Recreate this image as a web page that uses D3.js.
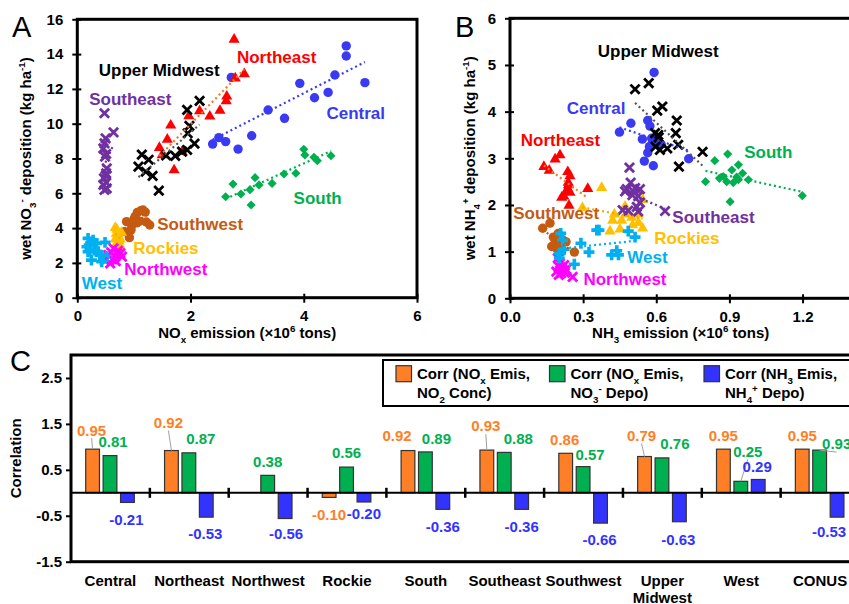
<!DOCTYPE html>
<html>
<head>
<meta charset="utf-8">
<script src="https://cdn.jsdelivr.net/npm/d3@7"></script>
<style>
body { margin: 0; background: #fff; }
svg { display: block; font-family: "Liberation Sans", Arial, sans-serif; }
</style>
</head>
<body>
<div id="container"></div>
<script>
// regions, in the same order for every array below
var regionNames = ["Central", "Northeast", "Northwest", "Rockies", "South", "Southeast", "Southwest", "Upper Midwest", "West"];

// panel A: NOx emission (1e6 tons) vs wet NO3- deposition (kg/ha)
var noxCentral = [[2.39,8.83],[2.50,9.20],[2.62,8.97],[2.84,8.54],[3.08,9.31],[2.72,12.66],[3.37,10.79],[3.66,10.31],[3.93,12.32],[4.19,11.49],[4.43,11.80],[4.55,12.80],[4.75,14.47],[4.75,13.89],[5.08,12.36]];
var noxNortheast = [[2.77,14.9],[2.79,12.67],[2.95,12.91],[2.64,11.63],[2.63,11.36],[2.52,10.81],[2.34,10.48],[2.16,10.79],[1.97,10.5],[1.65,9.96],[1.59,9.15],[1.45,8.68],[1.50,8.26],[1.71,7.39],[1.85,8.45]];
var noxNorthwest = [[0.58,1.97],[0.67,2.36],[0.76,2.55],[0.79,2.36],[0.64,2.84],[0.49,2.13],[0.70,2.55],[0.55,2.45],[0.62,2.2],[0.72,2.7],[0.60,2.6],[0.68,2.1]];
var noxRockies = [[0.67,4.08],[0.71,3.7],[0.70,3.22],[0.76,3.41],[0.70,3.98],[0.67,3.41],[0.76,3.03],[0.73,3.6],[0.78,3.8],[0.72,3.1],[0.74,3.3],[0.69,3.75]];
var noxSouth = [[2.62,5.8],[2.75,6.53],[2.89,5.96],[3.05,6.21],[3.07,5.33],[3.14,6.9],[3.21,6.48],[3.44,6.57],[3.65,7.11],[3.86,7.15],[4.00,8.53],[4.02,8.2],[4.18,8.07],[4.24,7.87],[4.48,8.16]];
var noxSoutheast = [[0.48,10.6],[0.64,9.5],[0.50,9.16],[0.48,8.87],[0.46,8.58],[0.51,8.26],[0.52,7.43],[0.51,7.15],[0.47,6.86],[0.51,6.61],[0.46,6.48],[0.52,6.28],[0.48,6.19],[0.50,7.0],[0.49,8.1]];
var noxSouthwest = [[0.83,3.8],[0.87,4.37],[0.92,3.45],[0.95,3.9],[0.96,4.15],[1.00,4.5],[1.02,4.66],[1.06,4.9],[1.10,4.4],[1.12,5.0],[1.16,5.04],[1.20,4.92],[1.22,4.35],[1.28,4.18],[1.05,4.3]];
var noxUpperMidwest = [[1.14,8.22],[1.26,7.93],[1.08,7.53],[1.21,7.24],[1.33,7.0],[1.44,6.15],[1.57,8.18],[1.73,8.15],[1.85,8.4],[1.94,8.49],[2.07,8.85],[1.94,10.79],[2.16,11.31],[1.98,9.88],[1.95,9.45]];
var noxWest = [[0.19,3.41],[0.21,3.03],[0.34,3.12],[0.49,3.18],[0.19,2.64],[0.30,2.74],[0.40,2.45],[0.25,2.16],[0.43,2.07],[0.52,2.36],[0.17,2.93],[0.28,3.3],[0.37,2.64],[0.46,2.26],[0.22,2.74]];

// panel B: NH3 emission (1e6 tons) vs wet NH4+ deposition (kg/ha)
var nh3Central = [[0.591,4.84],[0.449,3.56],[0.496,3.75],[0.543,3.41],[0.565,3.81],[0.574,3.69],[0.581,3.43],[0.572,3.25],[0.565,3.12],[0.551,2.94],[0.588,2.84],[0.584,3.32],[0.733,2.99],[0.60,3.4],[0.62,3.3]];
var nh3Northeast = [[0.139,2.84],[0.161,2.76],[0.185,3.0],[0.205,3.09],[0.237,2.73],[0.246,2.64],[0.239,2.5],[0.237,2.37],[0.246,2.29],[0.221,2.21],[0.212,2.18],[0.242,2.01],[0.319,2.37],[0.232,2.32],[0.24,2.45]];
var nh3Northwest = [[0.196,0.86],[0.20,0.68],[0.19,0.57],[0.21,0.54],[0.23,0.62],[0.257,0.46],[0.205,0.75],[0.222,0.71],[0.215,0.62],[0.20,0.5],[0.225,0.55],[0.21,0.66]];
var nh3Rockies = [[0.376,2.39],[0.297,1.96],[0.428,1.82],[0.472,1.99],[0.544,2.13],[0.421,1.69],[0.458,1.69],[0.499,1.75],[0.41,1.46],[0.451,1.5],[0.503,1.59],[0.527,1.64],[0.544,1.52],[0.527,1.82],[0.48,1.82]];
var nh3South = [[0.84,2.95],[0.893,3.09],[0.937,2.86],[0.91,2.75],[0.954,2.68],[0.875,2.61],[0.889,2.5],[0.916,2.48],[0.937,2.54],[0.978,2.54],[0.802,2.5],[0.903,2.07],[1.199,2.2],[0.859,2.57],[0.93,2.6]];
var nh3Southeast = [[0.49,2.8],[0.495,2.48],[0.479,2.34],[0.513,2.36],[0.533,2.34],[0.472,2.29],[0.502,2.21],[0.526,2.19],[0.485,1.88],[0.533,2.05],[0.526,1.86],[0.636,1.87],[0.462,1.89],[0.506,2.29],[0.52,1.96]];
var nh3Southwest = [[0.134,1.50],[0.164,1.61],[0.178,1.31],[0.185,1.25],[0.171,1.11],[0.191,1.07],[0.219,1.24],[0.23,1.21],[0.264,0.99],[0.205,1.11],[0.198,1.39],[0.212,1.0]];
var nh3UpperMidwest = [[0.513,4.48],[0.569,4.61],[0.604,4.02],[0.625,4.11],[0.684,3.81],[0.68,3.54],[0.595,3.54],[0.608,3.5],[0.597,3.25],[0.615,3.18],[0.645,3.21],[0.69,3.29],[0.693,2.82],[0.79,3.14],[0.61,3.45]];
var nh3West = [[0.208,1.39],[0.216,1.24],[0.202,0.96],[0.222,1.05],[0.202,0.86],[0.264,0.73],[0.291,1.18],[0.324,0.99],[0.356,1.46],[0.417,0.93],[0.438,1.02],[0.445,0.93],[0.485,1.44],[0.513,1.31],[0.365,1.46]];

// panel C: correlations
var categories = ["Central", "Northeast", "Northwest", "Rockie", "South", "Southeast", "Southwest", "Upper Midwest", "West", "CONUS"];
var corrNO2 = [0.95, 0.92, null, -0.10, 0.92, 0.93, 0.86, 0.79, 0.95, 0.95];
var corrNO3 = [0.81, 0.87, 0.38, 0.56, 0.89, 0.88, 0.57, 0.76, 0.25, 0.93];
var corrNH4 = [-0.21, -0.53, -0.56, -0.20, -0.36, -0.36, -0.66, -0.63, 0.29, -0.53];

// styling of the regions
var regionColors = ["#3a3af2", "#ff0000", "#ff00ff", "#ffc000", "#00b050", "#7030a0", "#c55a11", "#000000", "#00b0f0"];
var trendColors = ["#3a3af2", "#f07a28", "#ff00ff", "#f0a800", "#00b050", "#7030a0", "#c55a11", "#555555", "#00b0f0"];
var regionShapes = ["circle", "triangle", "x", "triangle", "diamond", "x", "circle", "x", "plus"];
var drawOrder = [0, 1, 6, 3, 5, 4, 2, 8, 7];

// label anchors (left, baseline) in data units
var labelPosA = [[4.40,10.27],[2.82,13.47],[0.83,1.29],[0.99,2.51],[3.82,5.39],[0.21,11.06],[1.41,3.89],[0.38,12.74],[0.08,0.52]];
var labelPosB = [[0.233,3.94],[0.044,3.26],[0.301,0.285],[0.592,1.157],[0.961,3.013],[0.666,1.62],[0.013,1.693],[0.36,5.164],[0.481,0.763]];

// bar label nudges [dx, dy] in px
var nudgeNO2 = [[-1,-5],[-3,-14],null,[0,3],[-11,-1],[-1,-10],[-1,0],[-3,-7],[0,0],[0,0]];
var nudgeNO3 = [[3,0],[12,0],[0,0],[0,0],[11,1],[14,0],[7,2],[13,0],[7,-16],[17,8]];
var nudgeNH4 = [[-1,3],[-1,2],[1,1],[0,-2],[0,3],[0,3],[-1,2],[-1,4],[-1,1],[-8,0]];

var width = 849, height = 604;

var svg = d3.select("#container")
  .append("svg")
  .attr("width", width)
  .attr("height", height);

// hyphen instead of the unicode minus d3 uses
var locale = d3.formatLocale({ decimal: ".", thousands: ",", grouping: [3], currency: ["", ""], minus: "-" });

// text with sub/superscripts: parts = [[text, "n"|"sub"|"sup"], ...]
function richText(sel, parts, fs) {
  var shift = 0;
  parts.forEach(function(p) {
    var target = p[1] == "sub" ? fs * 0.3 : (p[1] == "sup" ? -fs * 0.42 : 0);
    sel.append("tspan")
      .attr("dy", target - shift)
      .attr("font-size", p[1] == "n" ? fs : fs * 0.65)
      .text(p[0]);
    shift = target;
  });
  return sel;
}

function marker(g, shape, color) {
  if (shape == "circle") {
    g.append("circle").attr("r", 4.7).attr("fill", color);
  } else if (shape == "triangle") {
    g.append("path").attr("d", d3.symbol(d3.symbolTriangle, 54)()).attr("fill", color)
      .attr("transform", "translate(0,1)");
  } else if (shape == "diamond") {
    g.append("path").attr("d", d3.symbol(d3.symbolSquare, 42)()).attr("fill", color)
      .attr("transform", "rotate(45)");
  } else if (shape == "plus") {
    g.append("path").attr("d", d3.symbol(d3.symbolCross, 66)()).attr("fill", color);
  } else {
    g.append("path").attr("d", "M-4.6,-4.6L4.6,4.6M-4.6,4.6L4.6,-4.6")
      .attr("stroke", color).attr("stroke-width", 2.8).attr("fill", "none");
  }
}

function fitLine(pts) {
  var mx = d3.mean(pts, function(d) { return d[0]; });
  var my = d3.mean(pts, function(d) { return d[1]; });
  var sxy = d3.sum(pts, function(d) { return (d[0] - mx) * (d[1] - my); });
  var sxx = d3.sum(pts, function(d) { return (d[0] - mx) * (d[0] - mx); });
  var b = sxy / sxx, a = my - b * mx;
  var ext = d3.extent(pts, function(d) { return d[0]; });
  return [[ext[0], a + b * ext[0]], [ext[1], a + b * ext[1]]];
}

function scatterPanel(o) {
  var x = d3.scaleLinear().domain(o.xDomain).range([o.left, o.right]);
  var y = d3.scaleLinear().domain(o.yDomain).range([o.bottom, o.top]);
  var g = svg.append("g");

  // points
  drawOrder.forEach(function(i) {
    o.series[i].forEach(function(d) {
      var m = g.append("g").attr("transform", "translate(" + x(d[0]) + "," + y(d[1]) + ")");
      marker(m, regionShapes[i], regionColors[i]);
    });
  });

  // dotted trend lines
  var line = d3.line().x(function(d) { return x(d[0]); }).y(function(d) { return y(d[1]); });
  o.series.forEach(function(s, i) {
    g.append("path")
      .attr("d", line(fitLine(s)))
      .attr("stroke", trendColors[i])
      .attr("stroke-width", 2.2)
      .attr("stroke-dasharray", "2,3")
      .attr("fill", "none");
  });

  // region labels
  regionNames.forEach(function(name, i) {
    g.append("text")
      .attr("x", x(o.labels[i][0]))
      .attr("y", y(o.labels[i][1]))
      .attr("fill", regionColors[i])
      .attr("font-size", 17)
      .attr("font-weight", "bold")
      .text(name);
  });

  // axes
  var ya = g.append("g").attr("transform", "translate(" + o.left + ",0)")
    .call(d3.axisLeft(y).tickValues(o.yTicks).tickSize(5).tickPadding(9).tickFormat(o.yFormat));
  ya.selectAll(".tick line").attr("x1", 4).attr("stroke-width", 2);
  var xa = g.append("g").attr("transform", "translate(0," + o.bottom + ")")
    .call(d3.axisBottom(x).tickValues(o.xTicks).tickSize(5).tickPadding(8).tickFormat(o.xFormat));
  xa.selectAll(".tick line").attr("y1", -4).attr("stroke-width", 2);
  g.selectAll(".domain").remove();
  g.selectAll(".tick text").attr("font-size", 15).attr("font-weight", "bold")
    .attr("font-family", "Liberation Sans, Arial, sans-serif").attr("fill", "#000");

  g.append("rect")
    .attr("x", o.left).attr("y", o.top)
    .attr("width", o.right - o.left).attr("height", o.bottom - o.top)
    .attr("fill", "none").attr("stroke", "#000").attr("stroke-width", 3);

  // titles
  var yt = g.append("text")
    .attr("transform", "translate(" + o.yTitleX + "," + ((o.top + o.bottom) / 2) + ") rotate(-90)")
    .attr("text-anchor", "middle").attr("font-weight", "bold");
  richText(yt, o.yTitle, 15);
  var xt = g.append("text")
    .attr("x", (o.left + o.right) / 2).attr("y", 338)
    .attr("text-anchor", "middle").attr("font-weight", "bold");
  richText(xt, o.xTitle, 15);

  svg.append("text").attr("x", o.letterX).attr("y", 37).attr("font-size", 29).text(o.letter);
}

scatterPanel({
  letter: "A", letterX: 12,
  left: 77.3, right: 417, top: 19.3, bottom: 297.7,
  xDomain: [0, 6], yDomain: [0, 16],
  xTicks: [0, 2, 4, 6], yTicks: d3.range(0, 17, 2),
  xFormat: d3.format("d"), yFormat: d3.format("d"),
  series: [noxCentral, noxNortheast, noxNorthwest, noxRockies, noxSouth, noxSoutheast, noxSouthwest, noxUpperMidwest, noxWest],
  labels: labelPosA,
  yTitleX: 31,
  yTitle: [["wet NO", "n"], ["3", "sub"], ["-", "sup"], [" deposition (kg ha", "n"], ["-1", "sup"], [")", "n"]],
  xTitle: [["NO", "n"], ["x", "sub"], [" emission (\u00d710", "n"], ["6", "sup"], [" tons)", "n"]]
});

scatterPanel({
  letter: "B", letterX: 455,
  left: 510, right: 851.3, top: 18.3, bottom: 298.3,
  xDomain: [0, 1.4], yDomain: [0, 6],
  xTicks: [0, 0.3, 0.6, 0.9, 1.2], yTicks: d3.range(0, 7, 1),
  xFormat: d3.format(".1f"), yFormat: d3.format("d"),
  series: [nh3Central, nh3Northeast, nh3Northwest, nh3Rockies, nh3South, nh3Southeast, nh3Southwest, nh3UpperMidwest, nh3West],
  labels: labelPosB,
  yTitleX: 475,
  yTitle: [["wet NH", "n"], ["4", "sub"], ["+", "sup"], [" deposition (kg ha", "n"], ["-1", "sup"], [")", "n"]],
  xTitle: [["NH", "n"], ["3", "sub"], [" emission (\u00d710", "n"], ["6", "sup"], [" tons)", "n"]]
});

// ---------- panel C ----------
var cL = 71, cR = 859.5, cT = 355, cB = 561.7;
var series = ["no2", "no3", "nh4"];
var barColors = ["#ff7f27", "#00b050", "#3333ff"];
var values = [corrNO2, corrNO3, corrNH4];
var nudges = [nudgeNO2, nudgeNO3, nudgeNH4];

var x0 = d3.scaleBand().domain(categories).range([cL, cR]);
var x1 = d3.scaleBand().domain(series).range([14.7, 63.3]).paddingInner(0.21);
var yc = d3.scaleLinear().domain([-1.5, 3]).range([cB, cT]);
var fmt = locale.format(".2f");
var gc = svg.append("g");

var rows = [];
categories.forEach(function(c, ci) {
  series.forEach(function(s, si) {
    if (values[si][ci] != null) rows.push({ cat: c, ci: ci, s: s, si: si, v: values[si][ci] });
  });
});

gc.selectAll("rect.bar")
  .data(rows)
  .enter()
  .append("rect")
  .attr("class", "bar")
  .attr("x", function(d) { return x0(d.cat) + x1(d.s); })
  .attr("width", x1.bandwidth())
  .attr("y", function(d) { return yc(Math.max(0, d.v)); })
  .attr("height", function(d) { return Math.abs(yc(d.v) - yc(0)); })
  .attr("fill", function(d) { return barColors[d.si]; })
  .attr("stroke", "#333")
  .attr("stroke-width", 1.2);

// value labels (with leader lines where moved away)
rows.forEach(function(d) {
  var n = nudges[d.si][d.ci];
  var bx = x0(d.cat) + x1(d.s) + x1.bandwidth() / 2;
  var by = yc(d.v);
  var cy = d.v >= 0 ? by - 14 + n[1] : by + 14 + n[1];
  var lx = bx + n[0];
  if (Math.abs(n[1]) >= 5) {
    gc.append("line")
      .attr("x1", bx).attr("y1", by)
      .attr("x2", lx).attr("y2", cy + 8)
      .attr("stroke", "#a0a0a0").attr("stroke-width", 1);
  }
  gc.append("text")
    .attr("x", lx).attr("y", cy + 5.4)
    .attr("text-anchor", "middle")
    .attr("font-size", 15).attr("font-weight", "bold")
    .attr("fill", barColors[d.si])
    .text(fmt(d.v));
});

// zero line and category ticks
gc.append("line").attr("x1", cL).attr("x2", cR).attr("y1", yc(0)).attr("y2", yc(0))
  .attr("stroke", "#000").attr("stroke-width", 2);
gc.selectAll("line.sep")
  .data(categories.slice(1))
  .enter()
  .append("line")
  .attr("class", "sep")
  .attr("x1", function(d) { return x0(d); }).attr("x2", function(d) { return x0(d); })
  .attr("y1", yc(0) - 5).attr("y2", yc(0) + 5)
  .attr("stroke", "#000").attr("stroke-width", 2.5);

// y axis
var yca = gc.append("g").attr("transform", "translate(" + cL + ",0)")
  .call(d3.axisLeft(yc).tickValues([-1.5, -0.5, 0.5, 1.5, 2.5]).tickSize(5).tickPadding(4).tickFormat(locale.format(".1f")));
yca.select(".domain").remove();
yca.selectAll(".tick line").attr("stroke-width", 2);
yca.selectAll(".tick text").attr("font-size", 15).attr("font-weight", "bold")
  .attr("font-family", "Liberation Sans, Arial, sans-serif").attr("fill", "#000");

gc.append("rect").attr("x", cL).attr("y", cT).attr("width", cR - cL).attr("height", cB - cT)
  .attr("fill", "none").attr("stroke", "#000").attr("stroke-width", 3);

// category labels
categories.forEach(function(c) {
  var words = c.split(" ");
  var t = gc.append("text")
    .attr("x", x0(c) + x0.bandwidth() / 2).attr("y", 585.5)
    .attr("text-anchor", "middle").attr("font-size", 15).attr("font-weight", "bold");
  words.forEach(function(w, i) {
    t.append("tspan").attr("x", x0(c) + x0.bandwidth() / 2).attr("dy", i == 0 ? 0 : 17).text(w);
  });
});

gc.append("text")
  .attr("transform", "translate(21," + ((cT + cB) / 2) + ") rotate(-90)")
  .attr("text-anchor", "middle").attr("font-size", 15).attr("font-weight", "bold")
  .text("Correlation");

svg.append("text").attr("x", 10).attr("y", 371).attr("font-size", 29).text("C");

// legend
var legend = gc.append("g");
legend.append("rect").attr("x", 383).attr("y", 360).attr("width", 475).attr("height", 46)
  .attr("fill", "#fff").attr("stroke", "#000").attr("stroke-width", 2);
var legendX = [396, 549.5, 704];
var legendText = [
  [[["Corr (NO", "n"], ["x", "sub"], [" Emis,", "n"]], [["NO", "n"], ["2", "sub"], [" Conc)", "n"]]],
  [[["Corr (NO", "n"], ["x", "sub"], [" Emis,", "n"]], [["NO", "n"], ["3", "sub"], ["-", "sup"], [" Depo)", "n"]]],
  [[["Corr (NH", "n"], ["3", "sub"], [" Emis,", "n"]], [["NH", "n"], ["4", "sub"], ["+", "sup"], [" Depo)", "n"]]]
];
legendX.forEach(function(lx, i) {
  legend.append("rect").attr("x", lx).attr("y", 365.7).attr("width", 15.5).attr("height", 16)
    .attr("fill", barColors[i]).attr("stroke", "#333").attr("stroke-width", 1.2);
  richText(legend.append("text").attr("x", lx + 21).attr("y", 379.3).attr("font-weight", "bold"), legendText[i][0], 15);
  richText(legend.append("text").attr("x", lx + 21).attr("y", 398.3).attr("font-weight", "bold"), legendText[i][1], 15);
});
</script>
</body>
</html>
